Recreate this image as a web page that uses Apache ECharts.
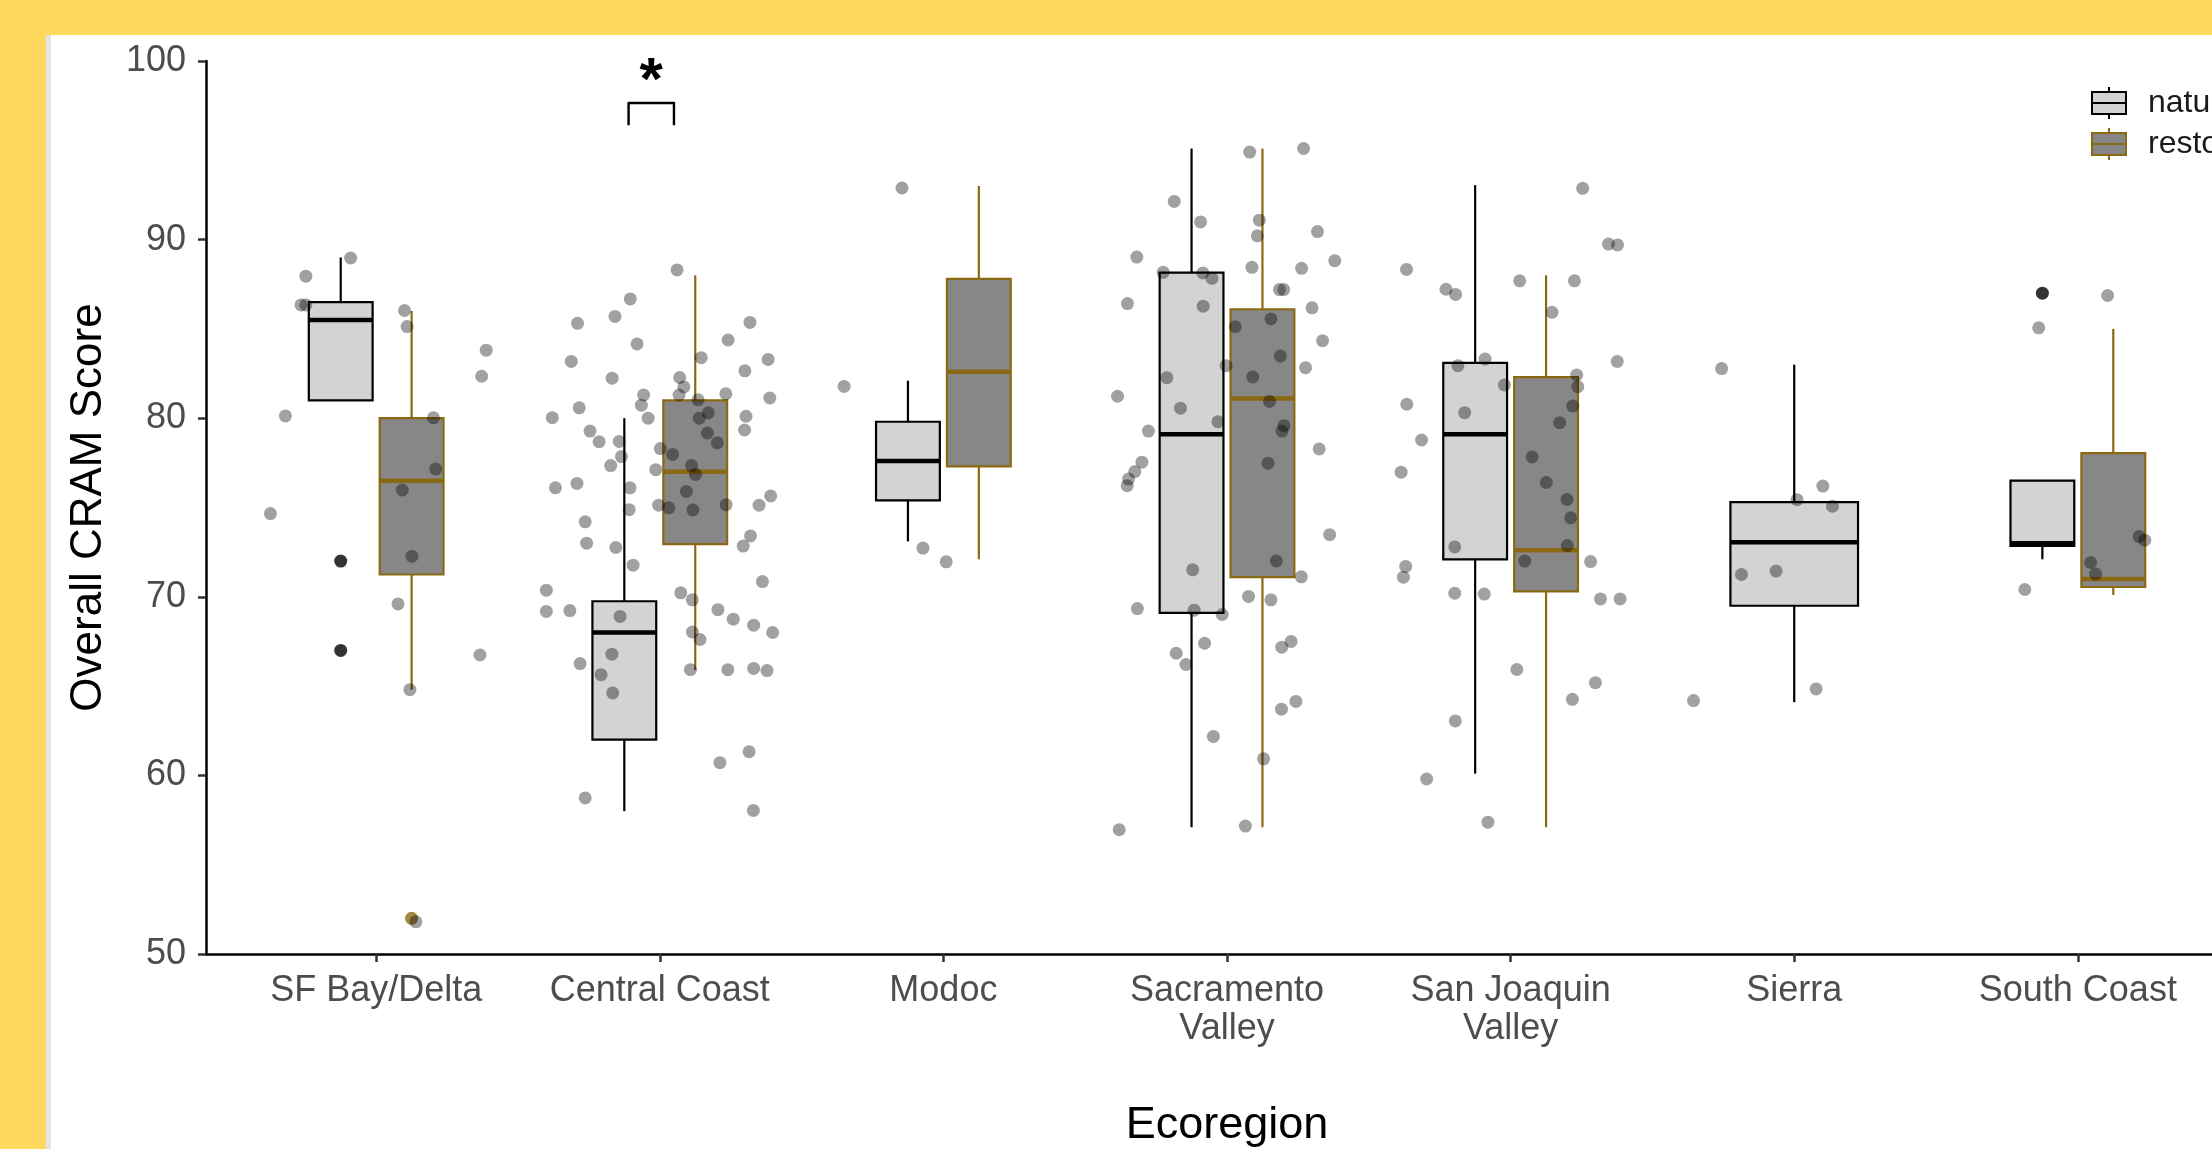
<!DOCTYPE html>
<html>
<head>
<meta charset="utf-8">
<script src="https://cdn.jsdelivr.net/npm/echarts@6/dist/echarts.min.js"></script>
<style>
  html, body { margin: 0; padding: 0; }
  #chart { width: 2212px; height: 1149px; }
</style>
</head>
<body>
<div id="chart"></div>
<script>
// CRAM score by ecoregion, natural vs restored wetlands

const categories = ['SF Bay/Delta', 'Central Coast', 'Modoc', 'Sacramento\nValley', 'San Joaquin\nValley', 'Sierra', 'South Coast'];
const groupNames = ['natural', 'restored'];

// [lower whisker, Q1, median, Q3, upper whisker] per ecoregion
const naturalStats = [
    [81.0, 81.0, 85.5, 86.5, 89.0],
    [58.0, 62.0, 68.0, 69.75, 80.0],
    [73.1, 75.4, 77.6, 79.8, 82.1],
    [57.1, 69.1, 79.1, 88.15, 95.1],
    [60.1, 72.1, 79.1, 83.1, 93.05],
    [64.1, 69.5, 73.05, 75.3, 83.0],
    [72.1, 72.85, 73.0, 76.5, 76.5]
];
const restoredStats = [
    [64.8, 71.25, 76.5, 80.0, 86.0],
    [65.9, 72.95, 77.0, 81.0, 88.0],
    [72.1, 77.3, 82.6, 87.8, 93.0],
    [57.1, 71.1, 81.1, 86.1, 95.1],
    [57.1, 70.3, 72.6, 82.3, 88.0],
    null,
    [70.1, 70.55, 71.0, 78.05, 85.0]
];

// outliers: [ecoregion number, score]
const naturalOutliers = [[1, 72.0], [1, 67.0], [7, 87.0]];
const restoredOutliers = [[1, 52.0]];

// jittered observations: [offset from ecoregion centre, score]
const jitterSF = [
    [-0.09, 88.97], [-0.248, 87.95], [-0.265, 86.34], [-0.248, 86.34], [0.1, 86.03], [0.109, 85.13],
    [0.388, 83.81], [0.372, 82.35], [-0.32, 80.13], [0.202, 80.02], [0.21, 77.15], [0.092, 75.98],
    [-0.373, 74.66], [0.126, 72.27], [0.077, 69.6], [0.366, 66.74], [0.119, 64.8], [0.14, 51.8]
];
const jitterCentralCoast = [
    [0.061, 88.3], [-0.104, 86.68], [-0.158, 85.7], [-0.29, 85.31], [-0.08, 84.16], [-0.312, 83.18],
    [-0.168, 82.24], [0.07, 82.28], [0.085, 81.75], [-0.057, 81.3], [0.068, 81.3], [-0.379, 80.03],
    [-0.284, 80.58], [-0.065, 80.73], [-0.041, 80.0], [-0.246, 79.28], [-0.214, 78.68], [-0.143, 78.7],
    [0.002, 78.3], [0.318, 85.36], [0.241, 84.38], [0.382, 83.29], [0.3, 82.65], [0.388, 81.13],
    [0.233, 81.37], [0.304, 80.11], [0.299, 79.34], [0.146, 83.39], [0.135, 81.03], [0.171, 80.3],
    [0.139, 80.0], [0.203, 78.62], [0.168, 79.17],
    [-0.173, 77.35], [-0.135, 77.85], [-0.368, 76.1], [-0.292, 76.35], [-0.105, 76.1], [-0.108, 74.88],
    [-0.263, 74.2], [-0.258, 73.0], [-0.155, 72.76], [-0.094, 71.77], [-0.4, 70.37], [-0.4, 69.18],
    [-0.317, 69.23], [-0.14, 68.9], [-0.281, 66.26], [-0.207, 65.64], [-0.169, 66.79], [-0.166, 64.62],
    [-0.263, 58.74], [-0.014, 77.12], [-0.004, 75.13], [0.032, 74.98], [0.045, 77.97], [0.112, 77.35],
    [0.126, 76.85], [0.094, 75.9], [0.117, 74.86], [0.234, 75.16], [0.35, 75.13], [0.391, 75.65],
    [0.32, 73.41], [0.294, 72.84], [0.362, 70.85], [0.074, 70.22], [0.115, 69.83], [0.205, 69.28],
    [0.259, 68.75], [0.331, 68.41], [0.398, 68.0], [0.115, 68.03], [0.142, 67.61], [0.108, 65.92],
    [0.24, 65.92], [0.331, 65.99], [0.378, 65.87], [0.315, 61.33], [0.212, 60.71], [0.33, 58.04]
];
const jitterModoc = [[-0.146, 92.89], [-0.35, 81.78], [-0.072, 72.73], [0.01, 71.96]];
const jitterSacramento = [
    [0.08, 94.9], [0.27, 95.1], [-0.186, 92.14], [-0.093, 90.99], [0.114, 91.09], [0.107, 90.21],
    [0.319, 90.45], [-0.318, 89.02], [0.38, 88.82], [0.088, 88.45], [0.263, 88.39], [-0.225, 88.17],
    [-0.085, 88.13], [-0.053, 87.83], [0.185, 87.2], [0.2, 87.2], [-0.351, 86.42], [-0.084, 86.27],
    [0.3, 86.18], [0.155, 85.56], [0.029, 85.12], [0.337, 84.34], [0.188, 83.48], [-0.003, 82.94],
    [0.277, 82.83], [-0.212, 82.27], [0.091, 82.31], [-0.386, 81.23], [0.15, 80.94], [-0.164, 80.56],
    [-0.032, 79.8], [0.201, 79.58], [0.194, 79.28], [-0.277, 79.28], [0.325, 78.28], [-0.3, 77.54],
    [-0.325, 77.01], [-0.347, 76.59], [-0.352, 76.22], [0.145, 77.48], [0.362, 73.48],
    [0.174, 72.01], [0.262, 71.12], [-0.121, 71.51], [0.076, 70.02], [0.155, 69.83], [-0.316, 69.34],
    [-0.116, 69.25], [-0.017, 69.01], [-0.079, 67.4], [-0.179, 66.84], [-0.145, 66.21], [0.226, 67.5],
    [0.193, 67.18], [0.243, 64.14], [0.192, 63.71], [-0.048, 62.18], [0.129, 60.93], [-0.38, 56.96],
    [0.065, 57.16]
];
const jitterSanJoaquin = [
    [0.254, 92.87], [0.345, 89.75], [0.377, 89.7], [-0.367, 88.33], [-0.228, 87.22], [-0.194, 86.93],
    [0.032, 87.69], [0.225, 87.69], [0.146, 85.93], [0.376, 83.18], [-0.186, 82.94], [-0.09, 83.31],
    [0.233, 82.42], [0.237, 81.76], [-0.022, 81.86], [0.219, 80.68], [-0.366, 80.78], [-0.162, 80.31],
    [0.173, 79.75], [-0.314, 78.78], [0.076, 77.83], [-0.386, 76.98], [0.126, 76.4], [0.199, 75.45],
    [0.212, 74.42], [0.2, 72.87], [-0.197, 72.79], [0.05, 72.0], [-0.37, 71.7], [-0.378, 71.1],
    [0.282, 71.97], [-0.197, 70.2], [-0.093, 70.15], [0.317, 69.88], [0.386, 69.88], [0.022, 65.93],
    [0.299, 65.19], [0.218, 64.26], [-0.195, 63.05], [-0.296, 59.8], [-0.08, 57.38]
];
const jitterSierra = [
    [-0.256, 82.78], [0.101, 76.2], [0.01, 75.44], [0.135, 75.07], [-0.186, 71.25], [-0.064, 71.44],
    [-0.355, 64.19], [0.077, 64.84]
];
const jitterSouthCoast = [
    [0.105, 86.87], [-0.138, 85.06], [0.216, 73.37], [0.236, 73.17], [0.045, 71.92], [0.0625, 71.27],
    [-0.187, 70.41]
];

// significance bracket: [ecoregion number, left offset, right offset, leg bottom, bar top, label height]
const sigBracket = [2, -0.11, 0.05, 96.4, 97.65, 99.45];
const sigLabel = '*';

// ---- build series data ----
const FONT = 'Liberation Sans, Arial, sans-serif';
const GOLD = '#8B6914';
const DODGE = 0.125;

function hasBoth(i) {
    return naturalStats[i] && restoredStats[i];
}

function boxRows(stats, side) {
    const rows = [];
    stats.forEach((s, i) => {
        if (!s) return;
        const both = hasBoth(i);
        const x = i + 1 + (both ? side * DODGE : 0);
        const half = both ? 0.1125 : 0.225;
        rows.push([x, s[0], s[1], s[2], s[3], s[4], half]);
    });
    return rows;
}

function outlierRows(list, side) {
    return list.map(([cat, v]) => [cat + (hasBoth(cat - 1) ? side * DODGE : 0), v]);
}

const jitterGroups = [jitterSF, jitterCentralCoast, jitterModoc, jitterSacramento, jitterSanJoaquin, jitterSierra, jitterSouthCoast];
const jitterPoints = [];
jitterGroups.forEach((arr, i) => {
    arr.forEach(([dx, v]) => jitterPoints.push([i + 1 + dx, v]));
});

function makeBoxRenderer(fill, stroke) {
    return function (params, api) {
        const x = api.value(0);
        const half = api.value(6);
        const lo = api.coord([x, api.value(1)]);
        const hi = api.coord([x, api.value(5)]);
        const tl = api.coord([x - half, api.value(4)]);
        const br = api.coord([x + half, api.value(2)]);
        const ml = api.coord([x - half, api.value(3)]);
        const mr = api.coord([x + half, api.value(3)]);
        return {
            type: 'group',
            children: [
                { type: 'line', shape: { x1: lo[0], y1: hi[1], x2: lo[0], y2: tl[1] }, style: { stroke: stroke, lineWidth: 2.2 } },
                { type: 'line', shape: { x1: lo[0], y1: br[1], x2: lo[0], y2: lo[1] }, style: { stroke: stroke, lineWidth: 2.2 } },
                { type: 'rect', shape: { x: tl[0], y: tl[1], width: br[0] - tl[0], height: br[1] - tl[1] }, style: { fill: fill, stroke: stroke, lineWidth: 2.2 } },
                { type: 'line', shape: { x1: ml[0], y1: ml[1], x2: mr[0], y2: mr[1] }, style: { stroke: stroke, lineWidth: 4.5 } }
            ]
        };
    };
}

const boxIcon = 'path://M0,5H34V27H0Z M0,16H34 M17,0V5 M17,27V32';
const tickValues = categories.map((c, i) => i + 1);

const chart = echarts.init(document.getElementById('chart'));

const option = {
    backgroundColor: '#FFD95F',
    animation: false,
    graphic: [
        { type: 'rect', z: -10, silent: true, shape: { x: 46, y: 35, width: 2166, height: 1114 }, style: { fill: '#FFFFFF' } },
        { type: 'rect', z: -9, silent: true, shape: { x: 46, y: 35, width: 5, height: 1114 }, style: { fill: '#E4E4E4' } }
    ],
    grid: {
        left: 206,
        right: -36,
        top: 61,
        bottom: 195,
        outerBoundsMode: 'none'
    },
    legend: {
        orient: 'vertical',
        left: 2086,
        top: 81,
        itemWidth: 34,
        itemHeight: 32,
        itemGap: 7,
        textStyle: { fontSize: 32, color: '#1A1A1A', fontFamily: FONT, padding: [0, 0, 0, 17] },
        data: [
            { name: 'natural', icon: boxIcon, itemStyle: { color: '#D3D3D3', borderColor: '#000000', borderWidth: 2 } },
            { name: 'restored', icon: boxIcon, itemStyle: { color: '#878787', borderColor: GOLD, borderWidth: 2 } }
        ]
    },
    xAxis: {
        type: 'value',
        min: 0.4,
        max: 7.6,
        name: 'Ecoregion',
        nameLocation: 'middle',
        nameGap: 149,
        nameTextStyle: { fontSize: 45, color: '#000000', fontFamily: FONT },
        axisLine: { show: true, onZero: false, lineStyle: { color: '#000000', width: 2.5 } },
        axisTick: { show: true, customValues: tickValues, length: 8, lineStyle: { color: '#333333', width: 2.5 } },
        axisLabel: {
            customValues: tickValues,
            formatter: v => categories[Math.round(v) - 1],
            color: '#4D4D4D',
            fontSize: 36,
            lineHeight: 38,
            margin: 18,
            fontFamily: FONT
        },
        splitLine: { show: false }
    },
    yAxis: {
        type: 'value',
        min: 50,
        max: 100,
        interval: 10,
        name: 'Overall CRAM Score',
        nameLocation: 'middle',
        nameGap: 95,
        nameTextStyle: { fontSize: 44, color: '#000000', fontFamily: FONT },
        axisLine: { show: true, onZero: false, lineStyle: { color: '#000000', width: 2.5 } },
        axisTick: { show: true, length: 8, lineStyle: { color: '#333333', width: 2.5 } },
        axisLabel: { color: '#4D4D4D', fontSize: 36, margin: 20, fontFamily: FONT },
        splitLine: { show: false }
    },
    series: [
        {
            name: 'natural',
            type: 'custom',
            itemStyle: { color: '#D3D3D3' },
            renderItem: makeBoxRenderer('#D3D3D3', '#000000'),
            encode: { x: 0, y: [1, 2, 3, 4, 5] },
            data: boxRows(naturalStats, -1)
        },
        {
            name: 'restored',
            type: 'custom',
            itemStyle: { color: '#878787' },
            renderItem: makeBoxRenderer('#878787', GOLD),
            encode: { x: 0, y: [1, 2, 3, 4, 5] },
            data: boxRows(restoredStats, 1)
        },
        {
            name: 'natural outliers',
            type: 'scatter',
            symbolSize: 13,
            itemStyle: { color: '#000000' },
            data: outlierRows(naturalOutliers, -1)
        },
        {
            name: 'restored outliers',
            type: 'scatter',
            symbolSize: 13,
            itemStyle: { color: GOLD },
            data: outlierRows(restoredOutliers, 1)
        },
        {
            name: 'observations',
            type: 'scatter',
            symbolSize: 13,
            itemStyle: { color: 'rgba(0,0,0,0.46)' },
            data: jitterPoints
        },
        {
            name: 'significance',
            type: 'custom',
            renderItem: function (params, api) {
                const cat = api.value(0);
                const a = api.coord([cat + api.value(1), api.value(3)]);
                const b = api.coord([cat + api.value(1), api.value(4)]);
                const c = api.coord([cat + api.value(2), api.value(4)]);
                const d = api.coord([cat + api.value(2), api.value(3)]);
                const t = api.coord([cat + (api.value(1) + api.value(2)) / 2, api.value(5)]);
                return {
                    type: 'group',
                    children: [
                        { type: 'polyline', shape: { points: [a, b, c, d] }, style: { stroke: '#000000', lineWidth: 2.4, fill: null, lineJoin: 'round' } },
                        { type: 'text', style: { text: sigLabel, x: t[0], y: t[1] + 12, textAlign: 'center', textVerticalAlign: 'middle', font: 'bold 60px ' + FONT, fill: '#000000' } }
                    ]
                };
            },
            encode: { x: 0, y: [3, 4, 5] },
            data: [sigBracket]
        }
    ]
};

chart.setOption(option);
window.addEventListener('resize', function () {
    chart.resize();
});
</script>
</body>
</html>
